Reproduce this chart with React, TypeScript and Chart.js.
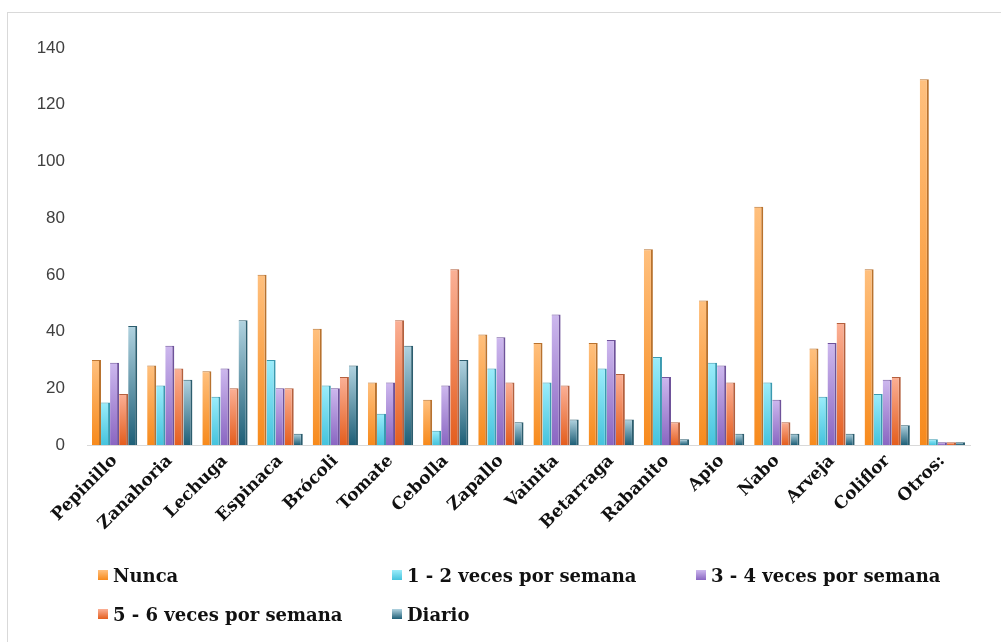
import React, { useEffect, useRef } from "react";
import { Chart, registerables } from "chart.js";

Chart.register(...registerables);

const categories = [
  "Pepinillo", "Zanahoria", "Lechuga", "Espinaca", "Brócoli", "Tomate", "Cebolla", "Zapallo",
  "Vainita", "Betarraga", "Rabanito", "Apio", "Nabo", "Arveja", "Coliflor", "Otros:",
];

const nunca = [30, 28, 26, 60, 41, 22, 16, 39, 36, 36, 69, 51, 84, 34, 62, 129];
const vez12 = [15, 21, 17, 30, 21, 11, 5, 27, 22, 27, 31, 29, 22, 17, 18, 2];
const vez34 = [29, 35, 27, 20, 20, 22, 21, 38, 46, 37, 24, 28, 16, 36, 23, 1];
const vez56 = [18, 27, 20, 20, 24, 44, 62, 22, 21, 25, 8, 22, 8, 43, 24, 1];
const diario = [42, 23, 44, 4, 28, 35, 30, 8, 9, 9, 2, 4, 4, 4, 7, 1];

const seriesNames = ["Nunca", "1 - 2 veces por semana", "3 - 4 veces por semana", "5 - 6 veces por semana", "Diario"];
const yTicks = [0, 20, 40, 60, 80, 100, 120, 140];

// [top colour, bottom colour, edge colour]
const palette = [
  ["#FFC07E", "#F78A1C", "#B8722E"],
  ["#9BEDFB", "#45C3DD", "#3A9AB0"],
  ["#CDB8EE", "#8A66C2", "#6E529A"],
  ["#FBB096", "#E45E1E", "#B4603E"],
  ["#B1D3E0", "#1E5F77", "#2C5D6E"],
];

const serif = "'DejaVu Serif', serif";

export default function App() {
  const ref = useRef<HTMLCanvasElement | null>(null);

  useEffect(() => {
    const canvas = ref.current;
    if (!canvas) return;
    const all = [nunca, vez12, vez34, vez56, diario];
    const chart = new Chart(canvas, {
      type: "bar",
      data: {
        labels: categories,
        datasets: all.map((d, i) => ({
          label: seriesNames[i],
          data: d,
          backgroundColor: (ctx: any) => {
            const ch = ctx.chart;
            const y = ch.scales && ch.scales.y;
            if (!ch.chartArea || !y || ctx.type !== "data") return palette[i][1];
            const top = y.getPixelForValue(ctx.raw);
            let bot = y.getPixelForValue(0);
            if (bot - top < 2) bot = top + 2;
            const g = ch.ctx.createLinearGradient(0, top, 0, bot);
            g.addColorStop(0, palette[i][0]);
            g.addColorStop(1, palette[i][1]);
            return g;
          },
          borderColor: palette[i][2],
          borderWidth: { top: 1, right: 2, left: 0, bottom: 0 },
          borderSkipped: false,
          categoryPercentage: 0.82,
          barPercentage: 1.0,
        })),
      },
      options: {
        responsive: false,
        animation: false,
        layout: { padding: { left: 0, top: 48, right: 31, bottom: 105 } },
        plugins: { legend: { display: false }, tooltip: { enabled: false } },
        scales: {
          x: {
            grid: { display: false, drawTicks: false },
            border: { display: true, color: "#D9D9D9", width: 1 },
            ticks: {
              autoSkip: false,
              maxRotation: 45,
              minRotation: 45,
              padding: 6,
              color: "#111111",
              font: { family: serif, size: 17, weight: "bold" },
            },
            afterFit: (s: any) => {
              s.height = 92;
            },
          },
          y: {
            min: 0,
            max: 140,
            afterBuildTicks: (s: any) => {
              s.ticks = yTicks.map((v) => ({ value: v }));
            },
            grid: { display: false, drawTicks: false },
            border: { display: false },
            ticks: {
              padding: 22,
              color: "#404040",
              font: { family: "'Liberation Sans', sans-serif", size: 17 },
            },
            afterFit: (s: any) => {
              s.width = 87;
            },
          },
        },
      },
    });
    return () => chart.destroy();
  }, []);

  const legendPos = [
    [98, 563],
    [392, 563],
    [696, 563],
    [98, 602],
    [392, 602],
  ];

  return (
    <div style={{ position: "fixed", left: 0, top: 0, width: 1001, height: 642, overflow: "hidden", background: "#fff" }}>
      <div style={{ position: "absolute", left: 7, top: 12, width: 1010, height: 660, border: "1px solid #D9D9D9" }} />
      <canvas ref={ref} width={1001} height={642} style={{ position: "absolute", left: 0, top: 0, width: 1001, height: 642 }} />
      {seriesNames.map((name, i) => (
        <div
          key={name}
          style={{
            position: "absolute",
            left: legendPos[i][0],
            top: legendPos[i][1],
            height: 24,
            display: "flex",
            alignItems: "center",
            whiteSpace: "nowrap",
          }}
        >
          <span
            style={{
              display: "inline-block",
              width: 10,
              height: 10,
              marginRight: 5,
              background: `linear-gradient(${palette[i][0]}, ${palette[i][1]})`,
            }}
          />
          <span style={{ fontFamily: serif, fontWeight: "bold", fontSize: 18, color: "#111" }}>{name}</span>
        </div>
      ))}
    </div>
  );
}
